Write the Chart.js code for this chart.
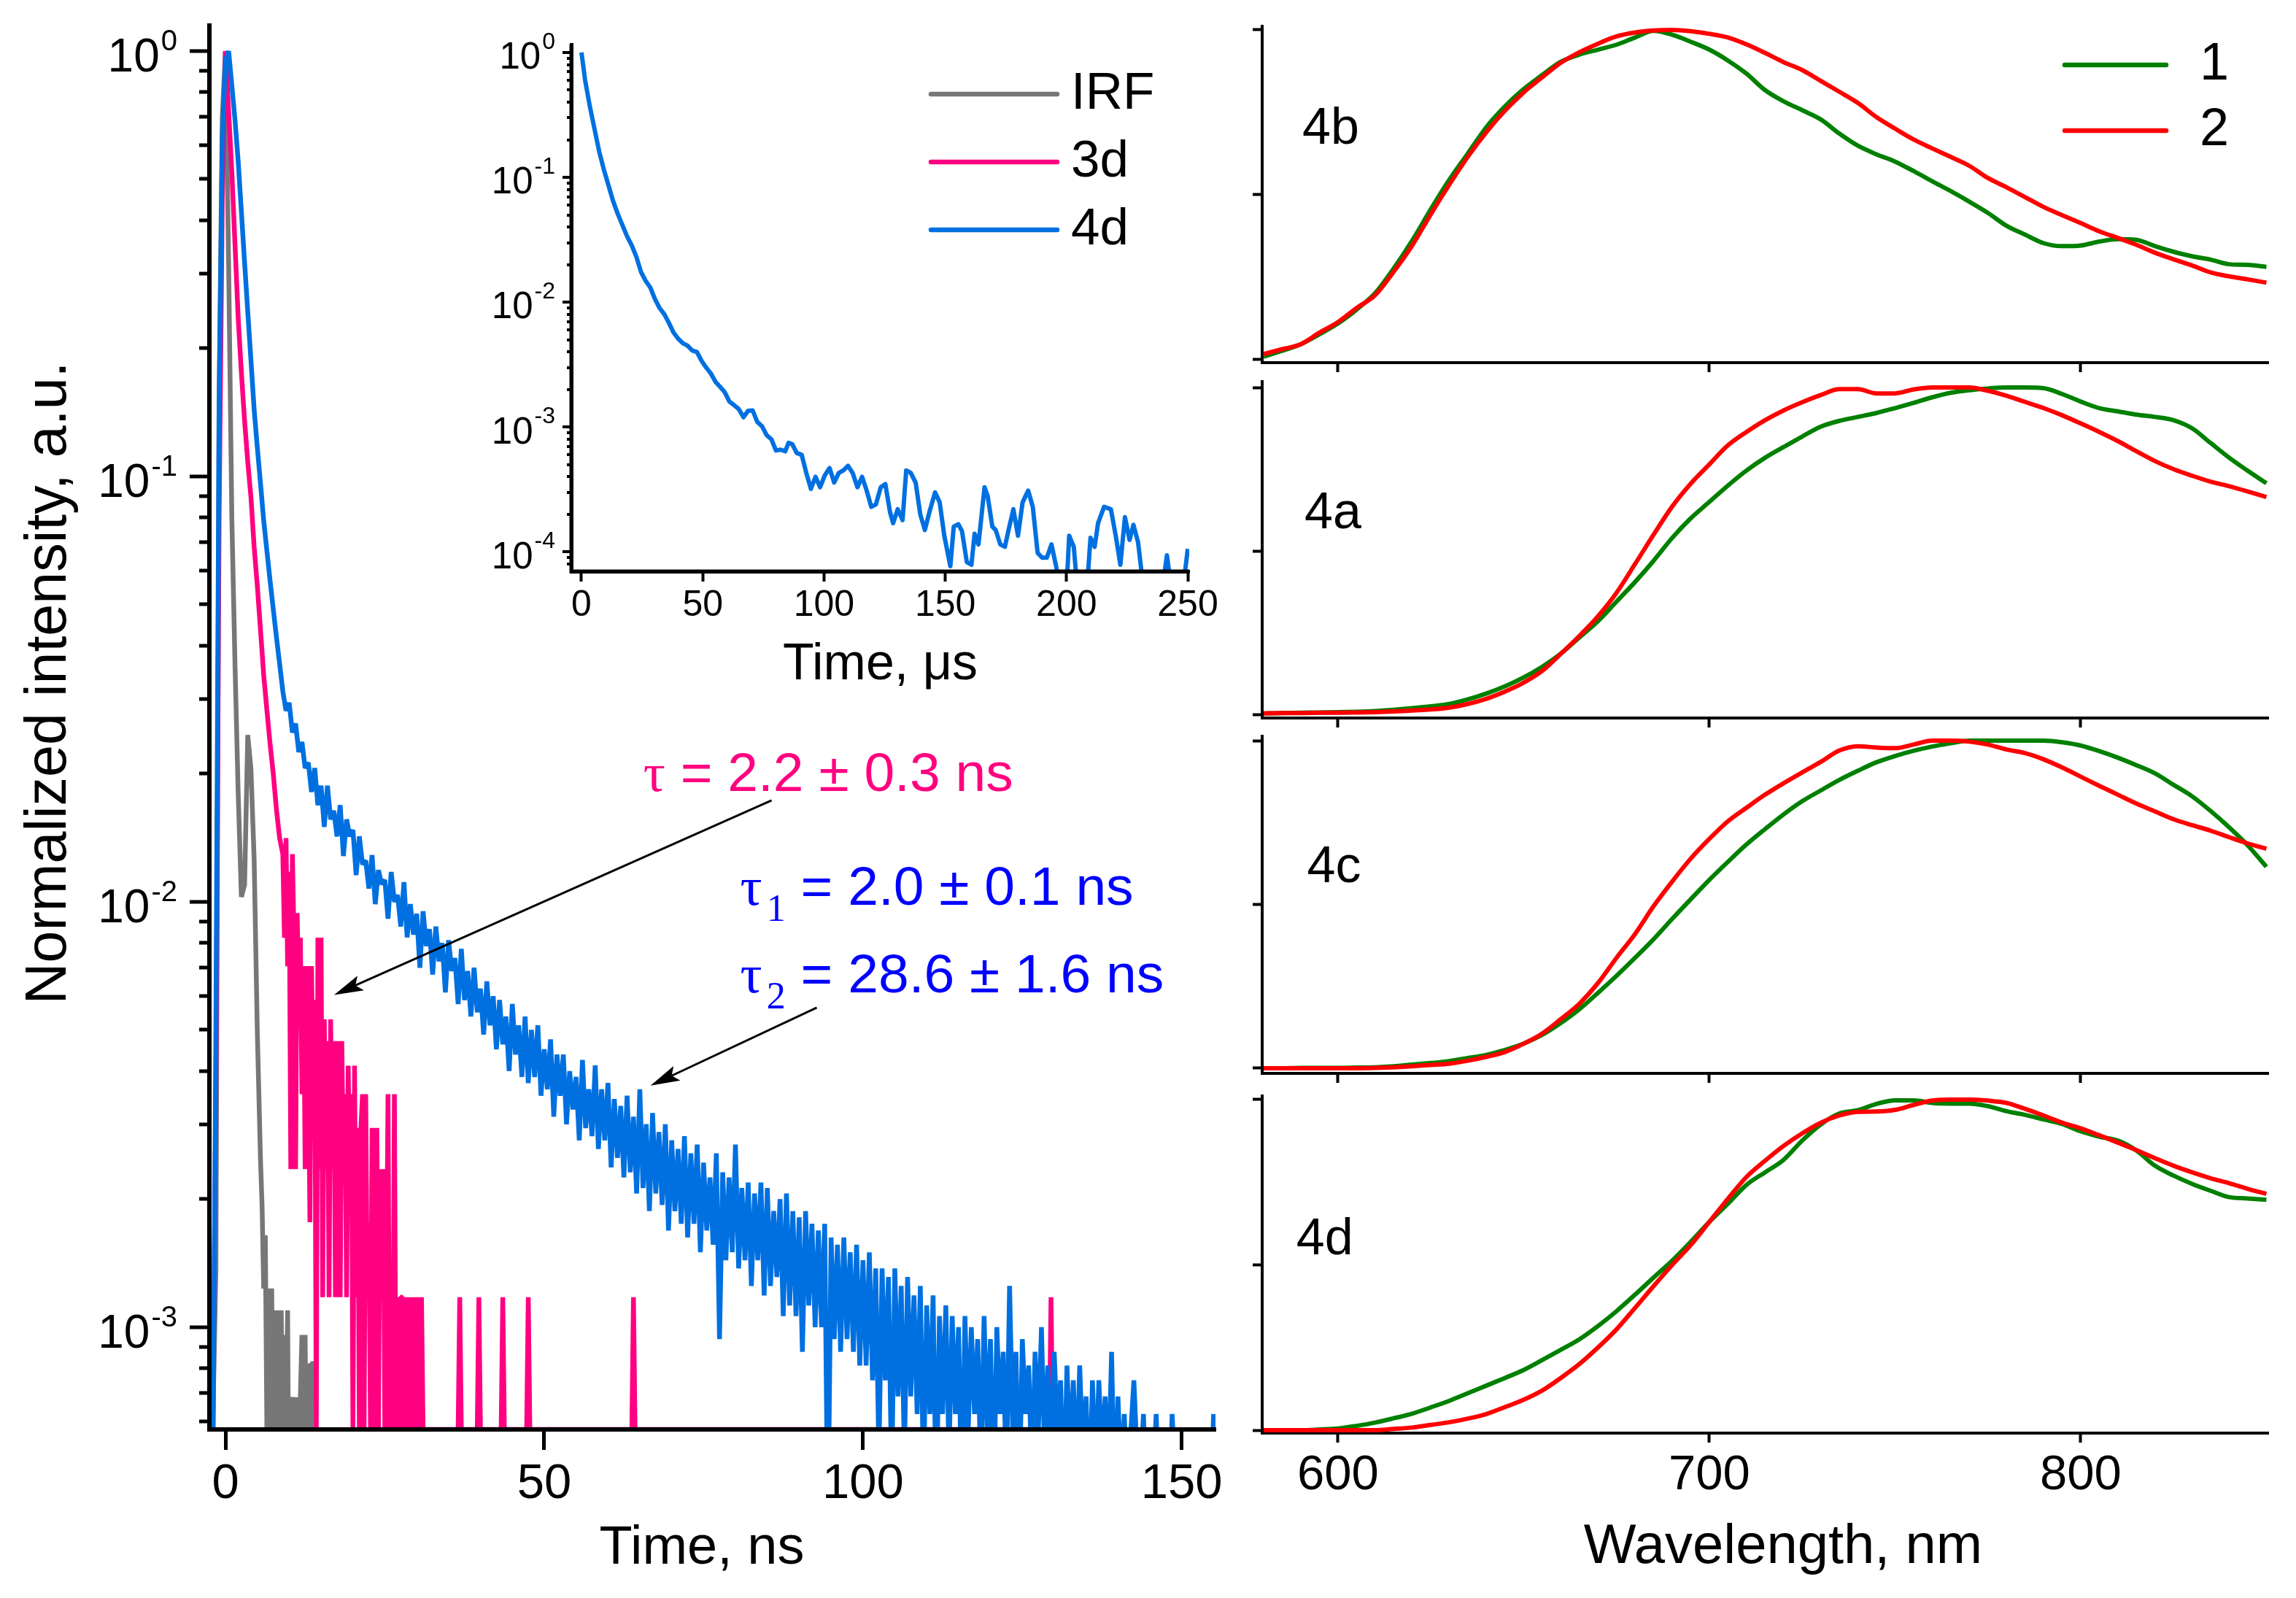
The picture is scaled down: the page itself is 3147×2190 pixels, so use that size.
<!DOCTYPE html>
<html lang="en">
<head>
<meta charset="utf-8">
<title>Luminescence decays and emission spectra</title>
<script src="https://cdn.jsdelivr.net/npm/chart.js@4.4.1/dist/chart.umd.min.js"></script>
<style>
  html, body { margin: 0; padding: 0; background: #fff; }
  #sheet { position: relative; width: 3147px; height: 2190px; background: #fff; overflow: hidden; }
  #sheet canvas { position: absolute; left: 0; top: 0; }
</style>
</head>
<body>
<div id="sheet">
  <canvas id="decay" width="3147" height="2190"></canvas>
  <canvas id="inset" width="3147" height="2190"></canvas>
  <canvas id="spec4b" width="3147" height="2190"></canvas>
  <canvas id="spec4a" width="3147" height="2190"></canvas>
  <canvas id="spec4c" width="3147" height="2190"></canvas>
  <canvas id="spec4d" width="3147" height="2190"></canvas>
</div>
<script>
//Decay traces (TCSPC), counts per channel
const irfTime = [
  -2,-1.5,-1,-0.5,0,0.5,1,1.5,2,2.5,3,3.5,4,4.5,5,5.5,
  5.75,6,6.25,6.5,6.75,7,7.25,7.5,7.75,8,8.25,8.5,8.75,9,9.25,9.5,9.75,10,
  10.25,10.5,10.75,11,11.25,11.5,11.75,12,12.25,12.5,12.75,13,13.25,13.5,13.75,14,14.25,14.5
];
const irfCounts = [
  0,10,1100,5100,7300,2300,584,263,131,75,80,180,150,92,36,18,
  14,9,12,0,9,3,9,0,8,2,8,0,8,3,7,0,8,2,
  5,0,5,1,5,0,5,7,0,7,2,6,0,6,6,0,0,0
];
const time3d = [
  -2,-1.5,-1,-0.5,0,0.5,1,1.5,2,2.5,3,3.5,4,4.5,5,5.5,6,6.5,7,7.5,8,8.5,
  9,9.25,9.5,9.75,10,10.25,10.5,10.75,11,11.25,11.5,11.75,12,12.25,12.5,12.75,13,13.25,13.5,13.75,
  14,14.25,14.5,14.75,15,15.25,15.5,15.75,16,16.25,16.5,16.75,17,17.25,17.5,17.75,18,18.25,18.5,18.75,
  19,19.25,19.5,19.75,20,20.25,20.5,20.75,21,21.25,21.5,21.75,22,22.25,22.5,22.75,23,23.25,23.5,23.75,
  24,24.25,24.5,24.75,25,25.25,25.5,25.75,26,26.25,26.5,26.75,27,27.25,27.5,27.75,28,28.25,28.5,28.75,
  29,29.25,29.5,29.75,30,30.25,30.5,30.75,31,
  36.5,36.75,37,39.5,39.75,40,43.25,43.5,43.75,47.25,47.5,47.75,63.75,64,64.25,129.25,129.5,129.75
];
const counts3d = [
  0,3,68,380,850,612,442,298,200,149,115,92,76,58,47,37,29,24,20,17,14,12,
  11,7,12,6,10,2,11,7,2,8,5,7,3,6,2,6,4,1.5,6,3,
  5,0,7,2,7,1,4.5,2,4,1,4.5,2,4,1,4,3,1,4,2,3,
  1,3.5,2,3,0,3.5,1,2.5,0,2.5,3,0,3,1,1.5,0,2.5,1,0,2.5,
  0,2,1,2,0,1,3,0,1,0,3,0,1,0,1,1,0,1,0,1,
  0,1,0,0,1,0,0,1,0,
  0,1,0,0,1,0,0,1,0,0,1,0,0,1,0,0,1,0
];
const time4d = [
  -2,-1.5,-1,-0.5,0,0.5,1,1.5,2,2.5,
  3,3.5,4,4.5,5,5.5,6,6.5,7,7.5,
  8,8.5,9,9.5,10,10.5,11,11.5,12,12.5,
  13,13.5,14,14.5,15,15.5,16,16.5,17,17.5,
  18,18.5,19,19.5,20,20.5,21,21.5,22,22.5,
  23,23.5,24,24.5,25,25.5,26,26.5,27,27.5,
  28,28.5,29,29.5,30,30.5,31,31.5,32,32.5,
  33,33.5,34,34.5,35,35.5,36,36.5,37,37.5,
  38,38.5,39,39.5,40,40.5,41,41.5,42,42.5,
  43,43.5,44,44.5,45,45.5,46,46.5,47,47.5,
  48,48.5,49,49.5,50,50.5,51,51.5,52,52.5,
  53,53.5,54,54.5,55,55.5,56,56.5,57,57.5,
  58,58.5,59,59.5,60,60.5,61,61.5,62,62.5,
  63,63.5,64,64.5,65,65.5,66,66.5,67,67.5,
  68,68.5,69,69.5,70,70.5,71,71.5,72,72.5,
  73,73.5,74,74.5,75,75.5,76,76.5,77,77.5,
  78,78.5,79,79.5,80,80.5,81,81.5,82,82.5,
  83,83.5,84,84.5,85,85.5,86,86.5,87,87.5,
  88,88.5,89,89.5,90,90.5,91,91.5,92,92.5,
  93,93.5,94,94.5,95,95.5,96,96.5,97,97.5,
  98,98.5,99,99.5,100,100.5,101,101.5,102,102.5,
  103,103.5,104,104.5,105,105.5,106,106.5,107,107.5,
  108,108.5,109,109.5,110,110.5,111,111.5,112,112.5,
  113,113.5,114,114.5,115,115.5,116,116.5,117,117.5,
  118,118.5,119,119.5,120,120.5,121,121.5,122,122.5,
  123,123.5,124,124.5,125,125.5,126,126.5,127,127.5,
  128,128.5,129,129.5,130,130.5,131,131.5,132,132.5,
  133,133.5,134,134.5,135,135.5,136,136.5,137,137.5,
  138,138.5,139,139.5,140,140.5,141,141.5,142,142.5,
  143,143.5,144,144.5,145,145.5,146,146.5,147,147.5,
  148,148.5,149,149.5,150,150.5,151,151.5,152,152.5,
  153,153.5,154,154.5,155
];
const counts4d = [
  6,80,2260,9900,15200,16000,13300,11000,8800,6700,
  5100,3900,3000,2300,1870,1540,1260,1070,910,780,
  670,580,500,450,470,400,420,360,380,330,
  340,290,330,270,300,240,300,250,262,228,
  270,205,250,228,236,185,228,196,200,172,
  206,158,190,176,180,146,188,160,166,140,
  178,132,158,134,150,112,152,126,138,108,
  140,116,128,98,130,110,118,92,124,94,
  110,86,112,88,100,78,104,82,96,72,
  94,74,86,64,92,70,82,62,86,60,
  80,62,82,56,72,58,76,50,70,56,
  70,48,64,52,62,44,68,47,58,45,
  66,42,58,44,60,38,55,40,53,36,
  56,37,50,33,58,34,48,30,51,33,
  46,31,48,27,44,30,42,28,45,26,
  41,28,43,24,39,27,36,25,41,15,
  37,23,36,24,43,22,34,23,35,20,
  33,23,35,19,34,20,30,21,32,17,
  33,18,30,17,29,14,30,18,28,16,
  27,16,28,5,26,15,25,14,26,15,
  24,14,25,13,23,13,24,12,22,8,
  22,12,21,7,22,11,20,8,21,11,
  19,10,20,7,18,10,19,6,17,10,
  18,8,17,10,16,6,17,9,16,10,
  15,7,17,9,15,6,16,10,14,7,
  20,9,14,6,15,10,13,7,14,9,
  16,8,13,7,14,9,12,6,13,8,
  12,7,13,8,11,6,12,7,12,8,
  11,7,14,6,11,7,10,6,9,12,
  8,7,10,6,8,7,10,6,8,7,
  6,10,7,8,6,7,6,8,7,6,
  7,6,8,6,10
];
const irfPeak = 7300;
const peak3d = 850;
const peak4d = 16000;

//Long component of 4d on the microsecond scale
const insetTime = [
  0,1.5,3.5,5.4,7.3,9.2,11.1,13,15,16.9,18.8,20.7,22.6,24.6,26.5,28.4,30.3,32.2,34.2,36.1,
  38,39.9,41.8,43.7,45.7,47.6,49.5,51.4,53.3,55.3,57.2,59.1,61,62.9,64.8,66.8,68.7,70.6,72.5,74.4,
  76.4,78.3,80.2,82.1,84,85.4,86.9,88.8,90.8,92.7,94.6,96.5,98.4,100.3,102.3,104.2,106.1,108,109.9,111.8,
  113.8,115.7,117.6,119.5,121.4,123.4,125.3,127.2,128.5,130.4,132.4,133.9,135.8,137.8,139.7,141.6,143.5,145.8,147.7,149.6,
  152.1,153.5,155.4,156.9,158.9,160.8,162.1,163.7,166.2,167.5,169.4,170.8,172.7,174.6,176.1,178.1,180,181.9,184.2,186.1,
  188.1,190,191.9,193.8,195.7,197.5,200,201.1,203,204.5,208.4,209.9,211.6,213,215.5,218.3,220.3,222.2,224.1,226,
  227.6,229.5,231.8,239.5,241.4,243.3,248,250
];
const insetIntensity = [
  1,0.6,0.366,0.243,0.161,0.116,0.0867,0.065,0.0508,0.0414,0.0337,0.0286,0.0232,0.0174,0.0148,0.0131,0.0106,0.009,0.008,0.0068,
  0.0057,0.0051,0.0047,0.0045,0.0041,0.004,0.0034,0.003,0.0027,0.0023,0.0021,0.0019,0.0016,0.0015,0.0014,0.0012,0.00135,0.00136,0.0011,0.00102,
  8.6e-4,8e-4,6.5e-4,6.6e-4,6.4e-4,7.5e-4,7.3e-4,6.2e-4,6e-4,4.3e-4,3.2e-4,4e-4,3.3e-4,4.1e-4,4.7e-4,3.6e-4,4.3e-4,4.5e-4,4.9e-4,4.3e-4,
  3.3e-4,4e-4,3.1e-4,2.3e-4,2.4e-4,3.3e-4,3.5e-4,2.1e-4,1.7e-4,2.2e-4,1.8e-4,4.5e-4,4.3e-4,3.6e-4,2e-4,1.5e-4,2.1e-4,3e-4,2.5e-4,1.35e-4,
  7.7e-5,1.6e-4,1.67e-4,1.47e-4,8.3e-5,7.9e-5,1.4e-4,1.15e-4,3.3e-4,2.8e-4,1.6e-4,1.5e-4,1.15e-4,1.1e-4,1.5e-4,2.2e-4,1.35e-4,2.5e-4,3.1e-4,2.3e-4,
  9.8e-5,9e-5,9e-5,1.15e-4,7.7e-5,5e-5,5e-5,1.35e-4,1.1e-4,5e-5,5e-5,1.3e-4,1.1e-4,1.7e-4,2.3e-4,2.2e-4,1.35e-4,7.9e-5,1.9e-4,1.25e-4,
  1.65e-4,1.2e-4,5e-5,5e-5,9.4e-5,5e-5,5e-5,1.06e-4
];

//Emission spectra, normalised (1 and 2)
const wavelengths = [
  580,585,590,595,600,605,610,615,620,625,630,635,640,645,650,655,660,665,670,675,
  680,685,690,695,700,705,710,715,720,725,730,735,740,745,750,755,760,765,770,775,
  780,785,790,795,800,805,810,815,820,825,830,835,840,845,850
];
const spec4b1 = [0.007,0.025,0.045,0.075,0.108,0.15,0.2,0.275,0.36,0.455,0.545,0.625,0.705,0.768,0.82,0.863,0.903,0.925,0.94,0.955,
  0.977,0.997,0.985,0.964,0.94,0.907,0.867,0.817,0.783,0.756,0.728,0.685,0.648,0.622,0.6,0.571,0.54,0.51,0.478,0.444,
  0.405,0.378,0.352,0.343,0.345,0.357,0.364,0.362,0.343,0.326,0.312,0.302,0.288,0.286,0.28];
const spec4b2 = [0.015,0.03,0.045,0.08,0.112,0.155,0.194,0.265,0.345,0.44,0.53,0.615,0.69,0.755,0.81,0.856,0.9,0.932,0.958,0.98,
  0.992,0.998,1,0.996,0.988,0.977,0.956,0.93,0.902,0.878,0.845,0.812,0.778,0.735,0.7,0.667,0.64,0.614,0.587,0.55,
  0.522,0.492,0.462,0.437,0.413,0.388,0.368,0.347,0.323,0.303,0.284,0.263,0.251,0.242,0.232];
const spec4a1 = [0.003,0.004,0.005,0.006,0.007,0.008,0.01,0.014,0.019,0.025,0.032,0.046,0.064,0.086,0.113,0.146,0.186,0.235,0.285,0.345,
  0.405,0.47,0.54,0.6,0.65,0.7,0.746,0.785,0.818,0.85,0.88,0.898,0.91,0.922,0.937,0.953,0.97,0.984,0.992,0.997,
  1,1,0.998,0.98,0.957,0.937,0.927,0.917,0.91,0.9,0.875,0.83,0.785,0.745,0.707];
const spec4a2 = [0.003,0.004,0.004,0.005,0.005,0.006,0.007,0.009,0.012,0.015,0.021,0.032,0.048,0.07,0.097,0.133,0.185,0.24,0.3,0.372,
  0.46,0.55,0.636,0.706,0.765,0.823,0.864,0.9,0.93,0.955,0.977,0.995,0.995,0.982,0.982,0.994,1,1,1,0.99,
  0.975,0.956,0.937,0.915,0.89,0.864,0.836,0.805,0.775,0.75,0.73,0.712,0.698,0.682,0.665];
const spec4c1 = [0,0,0.001,0.001,0.001,0.002,0.003,0.006,0.011,0.016,0.022,0.031,0.041,0.056,0.075,0.102,0.138,0.18,0.23,0.282,
  0.337,0.394,0.456,0.516,0.575,0.63,0.683,0.73,0.775,0.815,0.848,0.88,0.908,0.934,0.953,0.969,0.982,0.992,1,1,
  1,1,1,0.995,0.985,0.968,0.948,0.925,0.9,0.865,0.83,0.785,0.735,0.68,0.615];
const spec4c2 = [0,0,0,0,0,0,0.001,0.003,0.006,0.01,0.014,0.023,0.035,0.05,0.075,0.106,0.15,0.197,0.26,0.337,
  0.41,0.495,0.57,0.64,0.7,0.754,0.795,0.835,0.87,0.903,0.935,0.97,0.983,0.979,0.977,0.988,1,1,0.997,0.988,
  0.973,0.962,0.943,0.918,0.89,0.862,0.835,0.808,0.784,0.76,0.742,0.725,0.705,0.686,0.67];
const spec4d1 = [0,0,0,0.002,0.005,0.013,0.023,0.036,0.05,0.069,0.089,0.112,0.135,0.158,0.182,0.212,0.243,0.275,0.315,0.36,
  0.41,0.462,0.513,0.57,0.63,0.685,0.742,0.78,0.818,0.876,0.925,0.958,0.968,0.987,0.998,0.998,0.99,0.988,0.988,0.98,
  0.965,0.954,0.94,0.926,0.904,0.888,0.876,0.846,0.8,0.77,0.745,0.724,0.705,0.701,0.697];
const spec4d2 = [0,0,0,0,0,0,0,0.004,0.008,0.016,0.024,0.035,0.049,0.07,0.092,0.12,0.158,0.2,0.25,0.305,
  0.37,0.436,0.5,0.56,0.63,0.7,0.766,0.815,0.86,0.898,0.93,0.952,0.963,0.964,0.969,0.984,0.997,1,1,0.997,
  0.99,0.972,0.952,0.93,0.913,0.892,0.87,0.847,0.823,0.8,0.78,0.762,0.747,0.73,0.715];

//Axis ticks
const decayTicks = [0, 50, 100, 150];
const insetTicks = [0, 50, 100, 150, 200, 250];
const wavelengthTicks = [600, 700, 800];
const spectrumTicks = [0, 0.5, 1];
const decayMajor = [1, 0.1, 0.01, 0.001];
const decayMinor = [0.9,0.8,0.7,0.6,0.5,0.4,0.3,0.2, 0.09,0.08,0.07,0.06,0.05,0.04,0.03,0.02,
  0.009,0.008,0.007,0.006,0.005,0.004,0.003,0.002, 0.0009,0.0008,0.0007,0.0006];
const insetMajor = [1, 0.1, 0.01, 0.001, 0.0001];
const insetMinor = [0.9,0.8,0.7,0.6,0.5,0.4,0.3,0.2, 0.09,0.08,0.07,0.06,0.05,0.04,0.03,0.02,
  0.009,0.008,0.007,0.006,0.005,0.004,0.003,0.002, 0.0009,0.0008,0.0007,0.0006,0.0005,0.0004,0.0003,0.0002,
  0.00009,0.00008];

//Layout
const PAGE_W = 3147;
const PAGE_H = 2190;
const SANS = '"Liberation Sans", Arial, sans-serif';
const SERIF = '"Liberation Serif", "Times New Roman", serif';
const decayArea = { left: 287, top: 35, right: 1666, bottom: 1959 };
const insetArea = { left: 783, top: 61, right: 1630, bottom: 783 };
const TRACE_W = 6.5;
const SPECTRUM_W = 6;

Chart.defaults.font.family = SANS;
Chart.defaults.color = '#000';

const pad = (r, yw, xh) => ({ left: r.left - yw, top: r.top, right: PAGE_W - r.right, bottom: PAGE_H - r.bottom - xh });
const setTicks = values => scale => { scale.ticks = values.map(value => ({ value })); };
const toPoints = (xs, ys, peak = 1) => ys.map((y, i) => ({ x: xs[i], y: y / peak }));

const baseOptions = {
  responsive: false,
  devicePixelRatio: 1,
  animation: false,
  events: [],
};
const quiet = { legend: { display: false }, tooltip: { enabled: false } };

//log ticks with 10^n labels (exponent raised)
const logAxis = {
  id: 'logAxis',
  afterDraw(chart, args, o) {
    if (!o.major) return;
    const { ctx, chartArea, scales } = chart;
    const y = scales.y;
    const x0 = chartArea.left;
    ctx.save();
    ctx.strokeStyle = '#000';
    ctx.lineWidth = o.tickWidth;
    const tick = (v, len) => {
      const py = Math.round(y.getPixelForValue(v));
      ctx.beginPath();
      ctx.moveTo(x0, py);
      ctx.lineTo(x0 - len, py);
      ctx.stroke();
    };
    o.minor.forEach(v => tick(v, o.minorLen));
    o.major.forEach(v => tick(v, o.majorLen));

    ctx.fillStyle = '#000';
    ctx.textAlign = 'right';
    ctx.textBaseline = 'alphabetic';
    const right = x0 - o.majorLen - o.gap;
    o.major.forEach(v => {
      const py = y.getPixelForValue(v) + o.dy;
      const exp = String(Math.round(Math.log10(v)));
      ctx.font = `${o.expSize}px ${SANS}`;
      const ew = ctx.measureText(exp).width;
      ctx.fillText(exp, right, py - 0.358 * o.baseSize - o.raise + 0.716 * o.expSize);
      ctx.font = `${o.baseSize}px ${SANS}`;
      ctx.fillText('10', right - ew - o.expGap, py + 0.358 * o.baseSize);
    });
    ctx.restore();
  }
};

//legend at a fixed spot
const lineLegend = {
  id: 'lineLegend',
  afterDraw(chart, args, o) {
    if (!o.font) return;
    const ctx = chart.ctx;
    ctx.save();
    ctx.lineCap = 'round';
    chart.data.datasets.forEach((ds, i) => {
      const y = o.y + i * o.dy;
      ctx.strokeStyle = ds.borderColor;
      ctx.lineWidth = o.lineWidth;
      ctx.beginPath();
      ctx.moveTo(o.x1, y);
      ctx.lineTo(o.x2, y);
      ctx.stroke();
      ctx.fillStyle = '#000';
      ctx.font = o.font;
      ctx.textAlign = 'left';
      ctx.textBaseline = 'middle';
      ctx.fillText(ds.label, o.textX, y);
    });
    ctx.restore();
  }
};

//fitted lifetimes + arrows, placed in data units
const decayNotes = {
  id: 'decayNotes',
  afterDatasetsDraw(chart, args, o) {
    if (!o.labels) return;
    const { ctx, scales: { x, y } } = chart;
    ctx.save();
    o.arrows.forEach(a => {
      const x1 = x.getPixelForValue(a.from[0]), y1 = y.getPixelForValue(a.from[1]);
      const x2 = x.getPixelForValue(a.to[0]), y2 = y.getPixelForValue(a.to[1]);
      const ang = Math.atan2(y2 - y1, x2 - x1);
      const c = Math.cos(ang), s = Math.sin(ang);
      const bx = x2 - o.headLen * c, by = y2 - o.headLen * s;
      const nx = x2 - 0.8 * o.headLen * c, ny = y2 - 0.8 * o.headLen * s;
      ctx.strokeStyle = '#000';
      ctx.lineWidth = o.arrowWidth;
      ctx.beginPath();
      ctx.moveTo(x1, y1);
      ctx.lineTo(nx, ny);
      ctx.stroke();
      ctx.fillStyle = '#000';
      ctx.beginPath();
      ctx.moveTo(x2, y2);
      ctx.lineTo(bx + o.headHalf * s, by - o.headHalf * c);
      ctx.lineTo(nx, ny);
      ctx.lineTo(bx - o.headHalf * s, by + o.headHalf * c);
      ctx.closePath();
      ctx.fill();
    });
    ctx.textAlign = 'left';
    ctx.textBaseline = 'alphabetic';
    o.labels.forEach(l => {
      let px = x.getPixelForValue(l.t);
      const py = y.getPixelForValue(l.v);
      ctx.fillStyle = l.color;
      l.parts.forEach(([txt, kind]) => {
        if (kind === 'sub') {
          ctx.font = `${o.subSize}px ${SERIF}`;
          px += 6;
          ctx.fillText(txt, px, py + o.subDrop);
        } else {
          ctx.font = `${o.size}px ${kind === 'serif' ? SERIF : SANS}`;
          ctx.fillText(txt, px, py);
        }
        px += ctx.measureText(txt).width;
      });
    });
    ctx.restore();
  }
};

//axis captions placed like the original (centre + baseline)
const captions = {
  id: 'captions',
  afterDraw(chart, args, o) {
    if (!o.items) return;
    const ctx = chart.ctx;
    o.items.forEach(c => {
      ctx.save();
      ctx.translate(c.x, c.y);
      if (c.vertical) ctx.rotate(-Math.PI / 2);
      ctx.font = `${c.size}px ${SANS}`;
      ctx.fillStyle = '#000';
      ctx.textAlign = 'center';
      ctx.textBaseline = 'alphabetic';
      ctx.fillText(c.text, 0, 0);
      ctx.restore();
    });
  }
};

//frame over the traces (zero-count channels sit on the axis)
const frameOnTop = {
  id: 'frameOnTop',
  afterDatasetsDraw(chart) {
    const { ctx, chartArea: a } = chart;
    ctx.save();
    ctx.strokeStyle = '#000';
    ctx.lineWidth = chart.options.scales.x.border.width;
    ctx.beginPath();
    ctx.moveTo(a.left, a.top);
    ctx.lineTo(a.left, a.bottom);
    ctx.lineTo(a.right, a.bottom);
    ctx.stroke();
    ctx.restore();
  }
};

//panel name (4b, 4a, ...)
const panelTag = {
  id: 'panelTag',
  afterDraw(chart, args, o) {
    if (!o.text) return;
    const { ctx, scales: { x, y } } = chart;
    ctx.save();
    ctx.font = `${o.size}px ${SANS}`;
    ctx.fillStyle = '#000';
    ctx.textAlign = 'left';
    ctx.textBaseline = 'alphabetic';
    ctx.fillText(o.text, x.getPixelForValue(o.at[0]), y.getPixelForValue(o.at[1]));
    ctx.restore();
  }
};

//Main decay plot
new Chart(document.getElementById('decay'), {
  type: 'line',
  data: {
    datasets: [
      { label: 'IRF', data: toPoints(irfTime, irfCounts, irfPeak), borderColor: '#777777', borderWidth: TRACE_W, order: 2 },
      { label: '3d', data: toPoints(time3d, counts3d, peak3d), borderColor: '#FF0080', borderWidth: TRACE_W, order: 1 },
      { label: '4d', data: toPoints(time4d, counts4d, peak4d), borderColor: '#0070E0', borderWidth: TRACE_W, order: 0 },
    ],
  },
  options: {
    ...baseOptions,
    parsing: false,
    layout: { padding: pad(decayArea, 100, 231) },
    elements: { point: { radius: 0 }, line: { borderJoinStyle: 'bevel', tension: 0 } },
    scales: {
      x: {
        type: 'linear', min: -2.52, max: 155.3,
        afterBuildTicks: setTicks(decayTicks),
        afterFit: s => { s.height = 231; },
        border: { color: '#000', width: 6 },
        grid: { drawOnChartArea: false, tickLength: 28, tickWidth: 5, tickColor: '#000' },
        ticks: { font: { size: 67 }, padding: 7, maxRotation: 0, autoSkip: false },
      },
      y: {
        type: 'logarithmic', min: 5.75e-4, max: 1.148,
        afterFit: s => { s.width = 100; },
        border: { color: '#000', width: 6 },
        grid: { display: false },
        ticks: { display: false },
      },
    },
    plugins: {
      ...quiet,
      logAxis: { major: decayMajor, minor: decayMinor, majorLen: 27, minorLen: 14, tickWidth: 5,
        baseSize: 64, expSize: 40, gap: 17, expGap: 2, raise: 12, dy: 5 },
      lineLegend: { x1: 1276, x2: 1449, y: 129, dy: 93, textX: 1468, font: `71px ${SANS}`, lineWidth: 6.5 },
      captions: { items: [
        { text: 'Normalized intensity, a.u.', x: 90, y: 936, size: 79, vertical: true },
        { text: 'Time, ns', x: 962, y: 2143, size: 74 },
        { text: 'Wavelength, nm', x: 2444, y: 2142, size: 76 },
      ] },
      decayNotes: {
        size: 75, subSize: 52, subDrop: 22, arrowWidth: 3, headLen: 40, headHalf: 11,
        labels: [
          { t: 65.54, v: 0.01823, color: '#FF0080', parts: [['τ', 'serif'], [' = 2.2 ± 0.3 ns', 'sans']] },
          { t: 80.75, v: 0.00984, color: '#0000FF', parts: [['τ', 'serif'], ['1', 'sub'], [' = 2.0 ± 0.1 ns', 'sans']] },
          { t: 80.75, v: 0.006128, color: '#0000FF', parts: [['τ', 'serif'], ['2', 'sub'], [' = 28.6 ± 1.6 ns', 'sans']] },
        ],
        arrows: [
          { from: [85.67, 0.01731], to: [17.04, 0.006043] },
          { from: [92.76, 0.00564], to: [66.68, 0.003697] },
        ],
      },
    },
  },
  plugins: [logAxis, lineLegend, captions, frameOnTop, decayNotes],
});

//Inset: microsecond tail of 4d
new Chart(document.getElementById('inset'), {
  type: 'line',
  data: { datasets: [{ label: '4d', data: toPoints(insetTime, insetIntensity), borderColor: '#0070E0', borderWidth: 6 }] },
  options: {
    ...baseOptions,
    parsing: false,
    layout: { padding: pad(insetArea, 100, 200) },
    elements: { point: { radius: 0 }, line: { borderJoinStyle: 'round', tension: 0 } },
    scales: {
      x: {
        type: 'linear', min: -4.21, max: 250.6,
        afterBuildTicks: setTicks(insetTicks),
        afterFit: s => { s.height = 200; },
        border: { color: '#000', width: 5 },
        grid: { drawOnChartArea: false, tickLength: 14, tickWidth: 4, tickColor: '#000' },
        ticks: { font: { size: 50 }, padding: 3, maxRotation: 0, autoSkip: false },
        title: { display: true, text: 'Time, μs', font: { size: 70 }, padding: { top: 0, bottom: 29 } },
      },
      y: {
        type: 'logarithmic', min: 7.05e-5, max: 1.159,
        afterFit: s => { s.width = 100; },
        border: { color: '#000', width: 5 },
        grid: { display: false },
        ticks: { display: false },
      },
    },
    plugins: {
      ...quiet,
      logAxis: { major: insetMajor, minor: insetMinor, majorLen: 12, minorLen: 6, tickWidth: 4,
        baseSize: 51, expSize: 32, gap: 10, expGap: 2, raise: 14, dy: 4 },
    },
  },
  plugins: [logAxis, frameOnTop],
});

//Emission spectra, four stacked panels
const panels = [
  { id: 'spec4b', tag: '4b', at: [590.4, 0.654], one: spec4b1, two: spec4b2,
    area: { left: 1730, top: 36, right: 3109, bottom: 497 }, yMin: -0.011, yMax: 1.011 },
  { id: 'spec4a', tag: '4a', at: [591.0, 0.569], one: spec4a1, two: spec4a2,
    area: { left: 1730, top: 523, right: 3109, bottom: 984 }, yMin: -0.011, yMax: 1.018 },
  { id: 'spec4c', tag: '4c', at: [591.7, 0.568], one: spec4c1, two: spec4c2,
    area: { left: 1730, top: 1009, right: 3109, bottom: 1471 }, yMin: -0.0156, yMax: 1.0134 },
  { id: 'spec4d', tag: '4d', at: [588.8, 0.532], one: spec4d1, two: spec4d2,
    area: { left: 1730, top: 1502, right: 3109, bottom: 1964 }, yMin: -0.0088, yMax: 1.011 },
];

panels.forEach((p, i) => {
  const last = i === panels.length - 1;
  const xh = last ? 226 : 20;
  new Chart(document.getElementById(p.id), {
    type: 'line',
    data: {
      datasets: [
        { label: '1', data: toPoints(wavelengths, p.one), borderColor: '#008000', borderWidth: SPECTRUM_W, order: 1 },
        { label: '2', data: toPoints(wavelengths, p.two), borderColor: '#FF0000', borderWidth: SPECTRUM_W, order: 0 },
      ],
    },
    options: {
      ...baseOptions,
      parsing: false,
      layout: { padding: pad(p.area, 60, xh) },
      elements: { point: { radius: 0 }, line: { cubicInterpolationMode: 'monotone' } },
      scales: {
        x: {
          type: 'linear', min: 579.6, max: 850.5,
          afterBuildTicks: setTicks(wavelengthTicks),
          afterFit: s => { s.height = xh; },
          border: { color: '#000', width: 4 },
          grid: { drawOnChartArea: false, tickLength: 13, tickWidth: 4, tickColor: '#000' },
          ticks: { display: last, font: { size: 67 }, padding: 5, maxRotation: 0, autoSkip: false },
        },
        y: {
          type: 'linear', min: p.yMin, max: p.yMax,
          afterBuildTicks: setTicks(spectrumTicks),
          afterFit: s => { s.width = 60; },
          border: { color: '#000', width: 4 },
          grid: { drawOnChartArea: false, tickLength: 13, tickWidth: 4, tickColor: '#000' },
          ticks: { display: false },
        },
      },
      plugins: {
        ...quiet,
        panelTag: { text: p.tag, at: p.at, size: 70 },
        lineLegend: i === 0
          ? { x1: 2830, x2: 2969, y: 89, dy: 90, textX: 3015, font: `72px ${SANS}`, lineWidth: 6.5 }
          : {},
      },
    },
    plugins: i === 0 ? [panelTag, lineLegend] : [panelTag],
  });
});
</script>
</body>
</html>
